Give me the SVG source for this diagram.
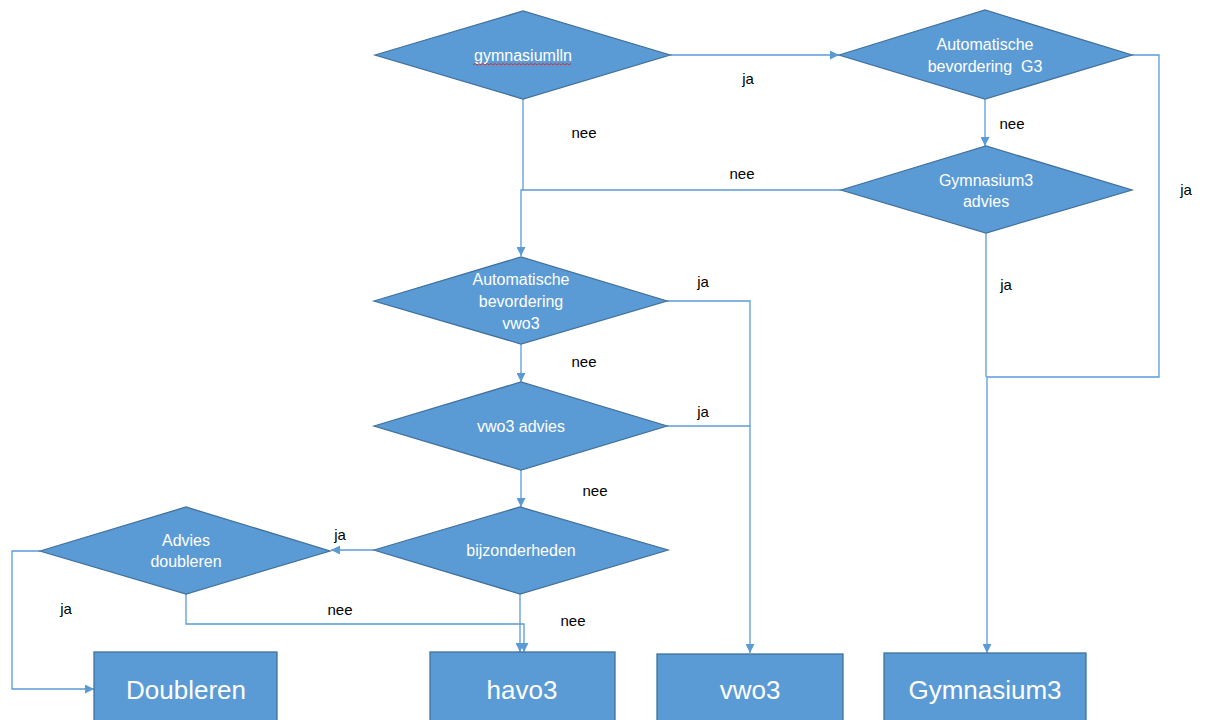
<svg xmlns="http://www.w3.org/2000/svg" width="1210" height="720" viewBox="0 0 1210 720">
<style>
.shape{fill:#5B9BD5;stroke:#41719C;stroke-width:1.3}
.ntext{font-family:"Liberation Sans",Arial,sans-serif;font-size:16px;fill:#FFFFFF;text-anchor:middle}
.btext{font-family:"Liberation Sans",Arial,sans-serif;font-size:26px;fill:#FFFFFF;text-anchor:middle}
.lbl{font-family:"Liberation Sans",Arial,sans-serif;font-size:15px;fill:#000000;text-anchor:middle}
.conn{fill:none;stroke:#5B9BD5;stroke-width:1.3}
</style>
<defs>
<marker id="arr" viewBox="0 0 10 10" refX="10" refY="5" markerWidth="9" markerHeight="9" markerUnits="userSpaceOnUse" orient="auto">
<path d="M0,0 L10,5 L0,10 z" fill="#5B9BD5"/>
</marker>
</defs>
<rect width="1210" height="720" fill="#FFFFFF"/>

<g id="connectors">
<path class="conn" d="M670,55 H839" marker-end="url(#arr)"/>
<path class="conn" d="M1132,55 H1159 V377 H987 V653" marker-end="url(#arr)"/>
<path class="conn" d="M985,99 V146" marker-end="url(#arr)"/>
<path class="conn" d="M986,233 V377"/>
<path class="conn" d="M523,99 V190"/>
<path class="conn" d="M841,190 H521 V256" marker-end="url(#arr)"/>
<path class="conn" d="M667,301 H750 V653" marker-end="url(#arr)"/>
<path class="conn" d="M521,344 V382" marker-end="url(#arr)"/>
<path class="conn" d="M667,426 H750"/>
<path class="conn" d="M521,470 V507" marker-end="url(#arr)"/>
<path class="conn" d="M374,550 H331" marker-end="url(#arr)"/>
<path class="conn" d="M40,551 H12 V689 H94" marker-end="url(#arr)"/>
<path class="conn" d="M186,594 V624 H524 V652" marker-end="url(#arr)"/>
<path class="conn" d="M520,594 V652" marker-end="url(#arr)"/>
<g id="labels">
<text class="lbl" x="748" y="84">ja</text>
<text class="lbl" x="584" y="138">nee</text>
<text class="lbl" x="1012" y="129">nee</text>
<text class="lbl" x="742" y="179">nee</text>
<text class="lbl" x="1186" y="195">ja</text>
<text class="lbl" x="703" y="287">ja</text>
<text class="lbl" x="1006" y="290">ja</text>
<text class="lbl" x="584" y="367">nee</text>
<text class="lbl" x="703" y="417">ja</text>
<text class="lbl" x="595" y="496">nee</text>
<text class="lbl" x="340" y="540">ja</text>
<text class="lbl" x="66" y="614">ja</text>
<text class="lbl" x="340" y="615">nee</text>
<text class="lbl" x="573" y="626">nee</text>
</g>
</g>

<g id="n-gymnasiumlln">
<polygon class="shape" points="375,55 523,11 670,55 523,99"/>
<text class="ntext" x="523" y="61">gymnasiumlln</text>
<path d="M473,65 l2,-1.5 l2,1.5 l2,-1.5 l2,1.5 l2,-1.5 l2,1.5 l2,-1.5 l2,1.5 l2,-1.5 l2,1.5 l2,-1.5 l2,1.5 l2,-1.5 l2,1.5 l2,-1.5 l2,1.5 l2,-1.5 l2,1.5 l2,-1.5 l2,1.5 l2,-1.5 l2,1.5 l2,-1.5 l2,1.5 l2,-1.5 l2,1.5 l2,-1.5 l2,1.5 l2,-1.5 l2,1.5 l2,-1.5 l2,1.5 l2,-1.5 l2,1.5 l2,-1.5 l2,1.5 l2,-1.5 l2,1.5 l2,-1.5 l2,1.5 l2,-1.5 l2,1.5 l2,-1.5 l2,1.5 l2,-1.5 l2,1.5 l2,-1.5 l2,1.5 l2,-1.5" fill="none" stroke="#E0242B" stroke-width="0.9"/>
</g>

<g id="n-autoG3">
<polygon class="shape" points="839,55 985,10 1132,55 985,99"/>
<text class="ntext" x="985" y="50">Automatische</text>
<text class="ntext" x="985" y="72" xml:space="preserve">bevordering  G3</text>
</g>

<g id="n-gym3advies">
<polygon class="shape" points="841,190 986,146 1132,190 986,233"/>
<text class="ntext" x="986" y="186">Gymnasium3</text>
<text class="ntext" x="986" y="207">advies</text>
</g>

<g id="n-autovwo3">
<polygon class="shape" points="374,301 521,257 667,301 521,344"/>
<text class="ntext" x="521" y="285">Automatische</text>
<text class="ntext" x="521" y="307">bevordering</text>
<text class="ntext" x="521" y="329">vwo3</text>
</g>

<g id="n-vwo3advies">
<polygon class="shape" points="374,426 521,382 667,426 521,470"/>
<text class="ntext" x="521" y="432">vwo3 advies</text>
</g>

<g id="n-bijzonderheden">
<polygon class="shape" points="374,550 520,507 668,550 520,594"/>
<text class="ntext" x="521" y="556">bijzonderheden</text>
</g>

<g id="n-adviesdoubleren">
<polygon class="shape" points="40,551 186,507 330,551 186,594"/>
<text class="ntext" x="186" y="546">Advies</text>
<text class="ntext" x="186" y="567">doubleren</text>
</g>

<g id="n-doubleren">
<rect class="shape" x="94" y="652" width="183" height="72"/>
<text class="btext" x="186" y="699">Doubleren</text>
</g>

<g id="n-havo3">
<rect class="shape" x="430" y="652" width="185" height="72"/>
<text class="btext" x="522" y="699">havo3</text>
</g>

<g id="n-vwo3">
<rect class="shape" x="657" y="654" width="186" height="70"/>
<text class="btext" x="750" y="699">vwo3</text>
</g>

<g id="n-gymnasium3">
<rect class="shape" x="884" y="653" width="202" height="71"/>
<text class="btext" x="985" y="699">Gymnasium3</text>
</g>
</svg>
